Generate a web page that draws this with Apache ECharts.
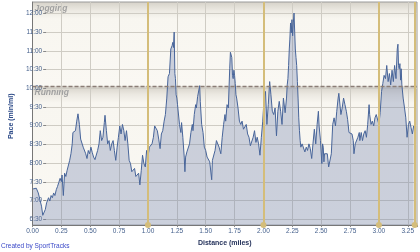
<!DOCTYPE html>
<html><head><meta charset="utf-8">
<script src="https://cdn.jsdelivr.net/npm/echarts@6/dist/echarts.min.js"></script>
<style>html,body{margin:0;padding:0;background:#fff}#c{width:420px;height:252px}</style>
</head><body><div id="c"></div>
<script>
// Distance (miles)
const distance = [
0.005,0.033,0.050,0.067,0.078,0.089,0.100,0.111,0.122,0.133,0.139,0.150,0.161,0.172,0.183,0.194,0.206,0.217,0.228,0.239,
0.250,0.256,0.267,0.278,0.289,0.300,0.311,0.322,0.333,0.344,0.350,0.361,0.372,0.383,0.394,0.406,0.417,0.428,0.439,0.450,
0.461,0.472,0.483,0.494,0.506,0.517,0.529,0.541,0.552,0.564,0.576,0.587,0.599,0.610,0.622,0.628,0.640,0.651,0.663,0.674,
0.686,0.698,0.709,0.721,0.733,0.744,0.756,0.767,0.779,0.791,0.802,0.814,0.826,0.837,0.849,0.860,0.872,0.884,0.895,0.907,
0.919,0.930,0.942,0.953,0.965,0.977,0.988,1.000,1.012,1.023,1.035,1.047,1.058,1.070,
1.081,1.093,1.105,1.116,1.128,1.140,1.151,1.163,1.174,1.186,1.198,1.209,1.215,1.221,1.227,1.233,1.238,1.244,1.250,1.256,
1.262,1.273,1.285,1.291,1.302,1.314,1.320,1.326,1.337,1.349,1.360,1.372,1.384,1.390,1.401,1.413,1.419,1.430,1.442,1.448,
1.453,1.465,1.477,1.488,1.500,1.512,1.523,1.535,1.547,1.552,1.558,1.570,1.581,1.593,1.605,1.616,
1.631,1.643,1.655,1.667,1.673,1.685,1.696,1.702,1.708,1.714,1.720,1.726,1.732,1.738,1.744,1.750,1.756,1.762,1.768,1.780,
1.792,1.804,1.815,1.827,1.839,1.851,1.863,1.875,1.887,1.899,1.911,1.923,1.935,1.946,1.958,1.970,1.982,1.994,2.006,2.018,
2.030,2.042,2.054,2.065,2.077,2.089,2.101,2.113,2.125,2.137,2.149,2.161,2.173,
2.188,2.200,2.206,2.212,2.218,2.224,2.229,2.235,2.241,2.247,2.253,2.259,2.265,2.271,2.276,2.282,2.288,2.294,2.300,2.306,
2.312,2.318,2.324,2.335,2.347,2.359,2.371,2.382,2.394,2.406,2.418,2.429,2.441,2.453,2.465,2.476,2.482,2.494,2.506,2.512,
2.518,2.524,2.529,2.541,2.553,2.565,2.576,2.588,2.600,2.612,2.624,2.635,2.647,2.653,2.659,2.671,2.682,2.694,2.706,2.718,
2.729,2.741,
2.756,2.767,2.778,2.784,2.795,2.807,2.818,2.830,2.835,2.847,2.858,2.869,2.881,2.892,2.903,2.915,2.920,2.932,2.943,2.955,
2.966,2.977,2.989,3.000,3.011,3.023,3.034,3.045,3.057,3.068,3.080,3.091,3.102,3.114,3.125,3.136,3.148,3.159,3.165,3.170,
3.176,3.182,3.188,3.193,3.199,3.210,3.222,3.233,3.244,3.256,3.267,3.278,3.290,3.301
];
// Pace (minutes per mile, decimal)
const pace = [
7.20,7.22,7.09,7.07,6.73,6.48,6.51,6.64,6.82,6.78,6.96,6.87,7.02,6.96,7.09,7.02,7.18,7.27,7.38,7.49,
7.40,7.58,7.02,7.63,7.54,7.71,7.67,7.98,8.16,8.43,8.74,8.70,8.79,9.05,9.25,8.96,8.56,8.61,8.34,8.38,
8.16,8.03,8.25,8.16,8.34,8.20,8.07,8.00,8.03,8.25,8.43,8.79,8.52,8.61,9.01,9.21,8.79,8.43,8.52,8.25,
8.43,8.52,8.25,7.98,8.34,8.61,8.92,8.70,8.96,8.79,8.52,8.79,8.43,7.98,7.89,7.67,7.63,7.76,7.54,7.49,
7.63,7.31,7.71,8.12,7.89,7.80,8.25,8.07,8.34,8.30,8.43,8.61,8.92,8.96,
8.79,8.56,8.30,8.70,8.79,9.05,9.23,9.68,10.26,10.35,11.02,11.11,11.20,11.06,11.48,10.35,10.21,9.77,9.68,9.50,
9.54,8.96,8.74,9.01,8.61,8.07,7.67,8.07,8.21,8.16,8.43,8.74,8.96,8.79,9.23,9.50,9.41,9.72,9.68,10.02,
9.59,8.96,8.74,8.34,8.25,8.07,8.03,7.94,7.98,7.45,7.98,7.98,8.25,8.52,8.47,8.34,
8.16,8.61,8.96,9.23,9.05,9.50,9.41,9.95,10.48,10.93,10.95,10.79,10.30,10.21,10.44,10.30,10.08,9.77,9.68,9.41,
9.05,8.96,9.05,8.83,8.79,8.96,8.70,8.61,8.38,8.34,8.61,8.79,8.47,8.61,8.43,8.12,8.61,9.05,9.68,9.86,
8.96,9.50,10.13,9.77,9.32,9.23,9.41,8.65,9.32,9.59,9.32,8.96,9.68,
9.28,9.68,10.04,10.21,10.57,11.02,11.29,11.73,11.46,11.82,11.38,11.73,12.00,11.46,11.02,10.79,10.57,10.13,9.68,9.14,
8.79,8.52,8.34,8.43,8.38,8.21,8.34,8.25,8.43,8.30,8.03,8.43,8.83,8.43,8.96,9.32,8.92,8.52,7.89,8.43,
8.34,7.94,8.16,8.12,8.16,7.80,7.76,8.16,8.96,9.14,8.92,9.32,9.68,9.81,9.86,9.23,9.41,9.68,9.50,9.32,
9.10,8.74,
8.79,8.70,8.52,8.16,8.43,8.38,8.61,8.74,8.52,8.74,8.52,8.70,8.79,8.61,8.96,9.50,9.23,8.96,9.05,8.92,
9.14,9.23,9.28,8.96,9.28,9.86,10.08,10.30,10.21,10.57,10.13,10.35,10.04,10.44,10.13,10.57,10.21,11.02,11.15,10.57,
10.48,10.62,10.17,10.48,10.04,9.68,9.41,9.14,8.61,8.96,9.05,8.88,8.70,8.92
];
const lapMarks = [1.00, 2.00, 3.00, 3.31];
const zoneNames = ['Jogging', 'Running'];
const zoneLimit = 10;          // 10:00 min/mi boundary

const Y_MIN = 6.213, Y_MAX = 12.302, X_MAX = 3.33;
const FONT = 'Liberation Sans';
function fmtPace(v) {
  const m = Math.floor(v + 1e-9);
  const s = Math.round((v - m) * 60);
  return m + ':' + (s < 10 ? '0' : '') + s;
}
function grad(stop) {
  return new echarts.graphic.LinearGradient(0, 0, 0, 1, [
    {offset: 0, color: '#d6d2c9'},
    {offset: stop, color: '#ece9e2'},
    {offset: stop * 2, color: '#f8f6f0'},
    {offset: 1, color: '#faf8f3'}
  ]);
}
const chart = echarts.init(document.getElementById('c'));
const option = {
  animation: false,
  backgroundColor: '#ffffff',
  title: {
    text: 'Created by SportTracks', left: 1, top: 243, padding: 0,
    textStyle: {fontSize: 6.5, fontFamily: FONT, color: '#3a48c8', fontWeight: 'normal'}
  },
  grid: [
    {left: 32.5, right: 2, top: 2, bottom: 22.5, show: true, borderColor: '#9a9a9a', borderWidth: 1, backgroundColor: 'transparent'},
    {left: 32.5, right: 2, top: 13.3, bottom: 32.7}
  ],
  xAxis: [
    {
      gridIndex: 0, type: 'value', min: 0, max: X_MAX, interval: 0.25,
      axisLine: {show: true, lineStyle: {color: '#777', width: 1}},
      axisTick: {show: true, length: 2, lineStyle: {color: '#888'}},
      axisLabel: {
        fontSize: 6.5, fontFamily: FONT, color: '#45608c', margin: 3,
        formatter: v => Math.abs(v * 4 - Math.round(v * 4)) < 1e-6 ? v.toFixed(2) : ''
      },
      splitLine: {show: true, lineStyle: {color: '#cfccc4', width: 1}},
      name: 'Distance (miles)', nameLocation: 'middle', nameGap: 12,
      nameTextStyle: {fontSize: 7, fontWeight: 'bold', color: '#1f2d57', fontFamily: FONT}
    },
    {gridIndex: 1, type: 'value', min: 0, max: X_MAX, show: false}
  ],
  yAxis: [
    {
      gridIndex: 0, type: 'value', min: Y_MIN, max: Y_MAX,
      axisLine: {show: true, lineStyle: {color: '#777', width: 1}},
      axisTick: {show: false}, axisLabel: {show: false}, splitLine: {show: false}
    },
    {
      gridIndex: 1, type: 'value', min: 6.5, max: 12, interval: 0.5,
      axisLine: {show: false},
      axisTick: {show: true, length: 3, lineStyle: {color: '#888'}},
      axisLabel: {fontSize: 6.5, fontFamily: FONT, color: '#45608c', margin: 4, formatter: fmtPace},
      splitLine: {show: true, lineStyle: {color: '#cfccc4', width: 1}},
      name: 'Pace (min/mi)', nameLocation: 'middle', nameGap: 26, nameRotate: 90,
      nameTextStyle: {fontSize: 7, fontWeight: 'bold', color: '#2a4886', fontFamily: FONT}
    }
  ],
  series: [
    {
      name: 'zones', type: 'line', xAxisIndex: 0, yAxisIndex: 0, data: [], silent: true, z: -1,
      markArea: {
        silent: true, z: -1,
        label: {
          show: true, position: 'insideTopLeft', distance: 2,
          color: '#a0a0a0', fontSize: 8.5, fontStyle: 'italic', fontWeight: 'bold', fontFamily: FONT
        },
        data: [
          [{name: zoneNames[0], yAxis: zoneLimit, itemStyle: {color: grad(0.1)}}, {yAxis: Y_MAX}],
          [{name: zoneNames[1], yAxis: Y_MIN, itemStyle: {color: grad(0.06)}}, {yAxis: zoneLimit}]
        ]
      }
    },
    {
      name: 'pace', type: 'line', xAxisIndex: 0, yAxisIndex: 0,
      data: distance.map((d, i) => [d, pace[i]]),
      showSymbol: false, symbol: 'none', z: 2,
      lineStyle: {color: '#48659a', width: 1},
      areaStyle: {color: 'rgba(110,128,172,0.47)', origin: 'start'},
      markLine: {
        silent: true, symbol: 'none', z: 4,
        label: {show: false},
        lineStyle: {color: '#8a7d76', width: 1.3, type: [4, 2]},
        data: [{yAxis: zoneLimit}]
      }
    },
    {
      name: 'laps', type: 'line', xAxisIndex: 0, yAxisIndex: 0, data: [], silent: true,
      markLine: {
        silent: true, symbol: ['circle', 'none'], symbolSize: 6, z: 5,
        label: {show: false},
        lineStyle: {color: '#d4bd7a', width: 2, type: 'solid'},
        data: lapMarks.map(v => ({xAxis: v}))
      }
    }
  ]
};
chart.setOption(option);
</script>
</body></html>
